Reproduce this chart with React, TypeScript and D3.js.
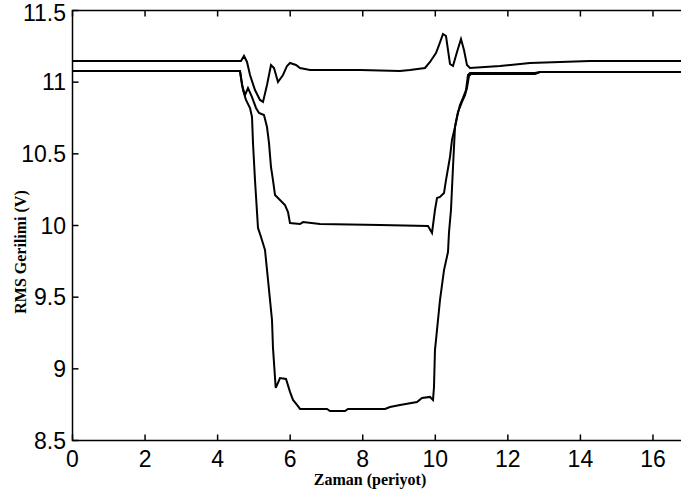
import React from "react";
import * as d3 from "d3";

const xTicks = [0, 2, 4, 6, 8, 10, 12, 14, 16];
const yTicks = [8.5, 9, 9.5, 10, 10.5, 11, 11.5];
const yTickLabels = ["8.5", "9", "9.5", "10", "10.5", "11", "11.5"];

// Shallow sag curve (time in periods, RMS voltage)
const shallowT = [0, 4.644, 4.727, 4.81, 4.893, 5.03, 5.168, 5.251, 5.361, 5.471, 5.554, 5.664, 5.802, 5.912, 5.995, 6.16, 6.271, 6.547, 7.925, 9.027, 9.302, 9.716, 9.854, 10.019, 10.102, 10.212, 10.295, 10.405, 10.488, 10.598, 10.708, 10.791, 10.873, 10.956, 11.783, 12.61, 14.264, 17.2];
const shallowV = [11.148, 11.148, 11.183, 11.141, 11.05, 10.945, 10.876, 10.862, 10.98, 11.12, 11.099, 11.001, 11.05, 11.113, 11.134, 11.12, 11.099, 11.085, 11.085, 11.078, 11.085, 11.099, 11.141, 11.203, 11.259, 11.336, 11.322, 11.127, 11.113, 11.21, 11.301, 11.224, 11.12, 11.099, 11.113, 11.134, 11.148, 11.148];

// Medium sag curve (down to ~10 V)
const mediumT = [0, 4.617, 4.672, 4.755, 4.837, 4.948, 5.058, 5.141, 5.278, 5.361, 5.416, 5.471, 5.526, 5.582, 5.719, 5.857, 5.94, 5.995, 6.271, 6.354, 6.822, 8.476, 9.799, 9.909, 9.991, 10.047, 10.129, 10.24, 10.295, 10.405, 10.46, 10.543, 10.598, 10.68, 10.763, 10.846, 10.901, 10.956, 12.748, 12.886, 17.2];
const mediumV = [11.078, 11.078, 10.98, 10.91, 10.959, 10.896, 10.82, 10.785, 10.771, 10.687, 10.576, 10.408, 10.317, 10.213, 10.178, 10.143, 10.094, 10.017, 10.01, 10.024, 10.01, 10.003, 9.996, 9.948, 10.108, 10.192, 10.199, 10.227, 10.317, 10.478, 10.597, 10.687, 10.757, 10.841, 10.89, 10.945, 11.05, 11.064, 11.064, 11.071, 11.071];

// Deep sag curve (down to ~8.7 V)
const deepT = [0, 4.617, 4.7, 4.782, 4.893, 4.948, 4.975, 5.03, 5.113, 5.196, 5.306, 5.389, 5.499, 5.526, 5.601, 5.637, 5.719, 5.885, 5.995, 6.078, 6.188, 6.271, 7.015, 7.098, 7.511, 7.594, 8.613, 8.751, 9.027, 9.495, 9.633, 9.854, 9.937, 9.964, 9.991, 10.019, 10.129, 10.24, 10.35, 10.377, 10.432, 10.488, 10.543, 10.625, 10.736, 10.818, 10.873, 10.928, 10.984, 12.748, 12.886, 17.2];
const deepV = [11.078, 11.078, 10.945, 10.876, 10.82, 10.757, 10.576, 10.317, 9.983, 9.92, 9.829, 9.62, 9.341, 9.146, 8.867, 8.887, 8.936, 8.929, 8.839, 8.783, 8.748, 8.72, 8.72, 8.706, 8.706, 8.72, 8.72, 8.734, 8.748, 8.769, 8.797, 8.804, 8.783, 8.873, 9.131, 9.2, 9.48, 9.689, 9.815, 9.95, 10.108, 10.408, 10.687, 10.792, 10.862, 10.91, 10.959, 11.043, 11.057, 11.057, 11.071, 11.071];

const series = [
  { t: shallowT, v: shallowV },
  { t: mediumT, v: mediumV },
  { t: deepT, v: deepV },
];

const W = 681;
const H = 491;
const left = 72.5;
const top = 10.5;
const bottom = 440.5;
const xMax = 17;

export default function App() {
  const x = d3.scaleLinear().domain([0, xMax]).range([left, left + 36.28 * xMax]);
  const y = d3.scaleLinear().domain([8.5, 11.5]).range([bottom, top]);
  const right = x(xMax);
  const line = d3
    .line<[number, number]>()
    .x((d) => x(d[0]))
    .y((d) => y(d[1]));
  const tickFont = "'Liberation Sans', Arial, sans-serif";
  const labelFont = "'Liberation Serif', 'Times New Roman', serif";
  return (
    <div style={{ position: "fixed", left: 0, top: 0 }}>
      <svg width={W} height={H} style={{ display: "block", background: "#fff" }}>
        <defs>
          <clipPath id="plotClip">
            <rect x={left} y={top} width={right - left} height={bottom - top} />
          </clipPath>
        </defs>
        <rect x={0} y={0} width={W} height={H} fill="#fff" />
        <g clipPath="url(#plotClip)">
          {series.map((s, i) => (
            <path
              key={i}
              d={line(s.t.map((t, j) => [t, s.v[j]] as [number, number])) || ""}
              fill="none"
              stroke="#000"
              strokeWidth={2}
              strokeLinejoin="miter"
            />
          ))}
        </g>
        <rect x={left} y={top} width={right - left} height={bottom - top} fill="none" stroke="#000" strokeWidth={1.5} />
        {xTicks.map((t) => (
          <g key={"x" + t}>
            <line x1={x(t)} x2={x(t)} y1={bottom} y2={bottom - 6} stroke="#000" strokeWidth={1.5} />
            <line x1={x(t)} x2={x(t)} y1={top} y2={top + 6} stroke="#000" strokeWidth={1.5} />
            <text x={x(t)} y={467} textAnchor="middle" fontFamily={tickFont} fontSize={23} fill="#000">
              {t}
            </text>
          </g>
        ))}
        {yTicks.map((v, i) => (
          <g key={"y" + v}>
            <line x1={left} x2={left + 6} y1={y(v)} y2={y(v)} stroke="#000" strokeWidth={1.5} />
            <text x={66} y={v === 11.5 ? y(v) + 10 : y(v) + 8} textAnchor="end" fontFamily={tickFont} fontSize={23} fill="#000">
              {yTickLabels[i]}
            </text>
          </g>
        ))}
        <text x={370} y={485} textAnchor="middle" fontFamily={labelFont} fontWeight="bold" fontSize={16} fill="#000">
          Zaman (periyot)
        </text>
        <text
          transform="translate(26,252) rotate(-90)"
          textAnchor="middle"
          fontFamily={labelFont}
          fontWeight="bold"
          fontSize={16}
          fill="#000"
        >
          RMS Gerilimi (V)
        </text>
      </svg>
    </div>
  );
}
